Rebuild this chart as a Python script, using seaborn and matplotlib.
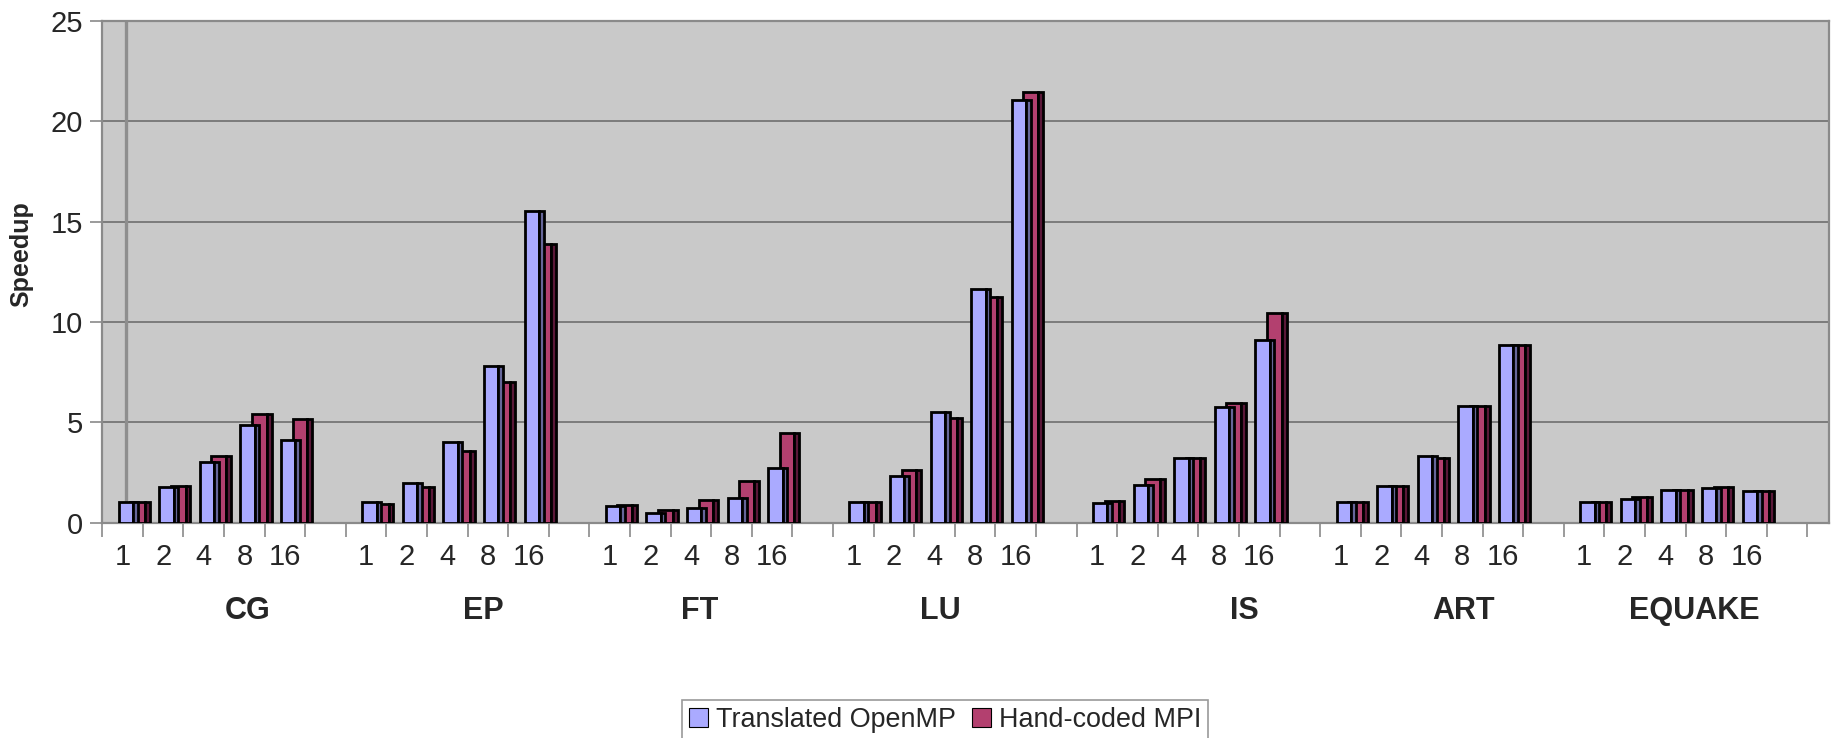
import matplotlib
matplotlib.use("Agg")
import matplotlib.pyplot as plt
from matplotlib.patches import Patch
from matplotlib.transforms import blended_transform_factory
import numpy as np
import pandas as pd
import seaborn as sns

# ---- data -------------------------------------------------------------
benchmarks = ["CG", "EP", "FT", "LU", "IS", "ART", "EQUAKE"]
procs = ["1", "2", "4", "8", "16"]

openmp = {
    "CG":     [1.00, 1.77, 3.00, 4.85, 4.10],
    "EP":     [1.00, 1.97, 4.00, 7.80, 15.53],
    "FT":     [0.82, 0.48, 0.72, 1.23, 2.72],
    "LU":     [1.00, 2.30, 5.50, 11.62, 21.07],
    "IS":     [0.95, 1.88, 3.22, 5.77, 9.10],
    "ART":    [1.00, 1.80, 3.33, 5.82, 8.87],
    "EQUAKE": [1.00, 1.18, 1.63, 1.72, 1.55],
}
mpi = {
    "CG":     [1.00, 1.80, 3.32, 5.43, 5.15],
    "EP":     [0.90, 1.77, 3.55, 7.02, 13.87],
    "FT":     [0.87, 0.62, 1.12, 2.05, 4.48],
    "LU":     [1.00, 2.62, 5.20, 11.22, 21.45],
    "IS":     [1.07, 2.18, 3.22, 5.97, 10.43],
    "ART":    [1.00, 1.80, 3.23, 5.83, 8.87],
    "EQUAKE": [1.00, 1.25, 1.63, 1.77, 1.55],
}
series_names = ["Translated OpenMP", "Hand-coded MPI"]
yticks = [0, 5, 10, 15, 20, 25]

# ---- tidy table: one row per non-empty category slot -----------------
SLOTS_PER_GROUP = len(procs) + 1          # five bars + one blank slot
rows = []
for g, name in enumerate(benchmarks):
    for j, p in enumerate(procs):
        rows.append({"bench": name, "procs": p,
                     "slot": g * SLOTS_PER_GROUP + j,
                     "openmp": openmp[name][j], "mpi": mpi[name][j]})
df = pd.DataFrame(rows)
n_slots = len(benchmarks) * SLOTS_PER_GROUP

# ---- style --------------------------------------------------------------
sns.set_style("white")
plt.rcParams["font.family"] = ["Liberation Sans", "DejaVu Sans"]

C_BLUE = "#AAAAFF"
C_BLUE_SIDE = "#66669A"
C_MPI = "#B3406F"
C_MPI_SIDE = "#5A1838"
EDGE = "black"
LW = 2.0

fig = plt.figure(figsize=(18.33, 7.38), dpi=100)
ax = fig.add_axes([0.0558, 0.292, 0.9420, 0.6795])
ax.set_facecolor("#C9C9C9")

# pseudo-3D columns: a front face plus a darker side strip for each series
# (x offsets and widths are in category-slot units)
layers = [
    ("mpi",    0.370, 0.360, C_MPI),
    ("mpi",    0.610, 0.120, C_MPI_SIDE),
    ("openmp", 0.078, 0.355, C_BLUE),
    ("openmp", 0.313, 0.115, C_BLUE_SIDE),
]
for col, shift, width, color in layers:
    sns.barplot(x=df["slot"] + shift, y=df[col], native_scale=True,
                width=width, color=color, saturation=1, errorbar=None,
                edgecolor=EDGE, linewidth=LW, ax=ax, zorder=3)

# axes limits and grid
ax.set_xlim(-0.5, 42.03)
ax.set_ylim(0, 25)
ax.set_yticks(yticks)
ax.set_yticklabels([str(t) for t in yticks])
ax.yaxis.grid(True, color="#6E6E6E", linewidth=1.2, zorder=0)
ax.xaxis.grid(False)
ax.set_axisbelow(True)
ax.axvline(0.084, color="#8E8E8E", linewidth=2.4, zorder=1)

for side in ["left", "bottom", "top", "right"]:
    ax.spines[side].set_visible(True)
    ax.spines[side].set_color("#8A8A8A")
    ax.spines[side].set_linewidth(1.6)

# x ticks: labels at slot centres, tick marks at slot boundaries
ax.set_xticks(df["slot"].to_numpy())
ax.set_xticklabels(df["procs"].tolist(), fontsize=21)
ax.set_xticks(np.arange(-0.5, n_slots + 0.5, 1.0), minor=True)
ax.tick_params(axis="x", which="major", length=0, pad=15)
ax.tick_params(axis="x", which="minor", length=10, width=1.2,
               color="#8A8A8A", bottom=True)
ax.tick_params(axis="y", which="major", length=9, width=1.2,
               color="#8A8A8A", labelsize=21, pad=5, left=True)
ax.set_xlabel("")
ax.set_ylabel("")

# benchmark names below the process counts
group_label_x = [3.09, 8.88, 14.21, 20.15, 27.64, 33.04, 38.71]
trans = blended_transform_factory(ax.transData, ax.transAxes)
for name, gx in zip(benchmarks, group_label_x):
    ax.text(gx, -0.1765, name, transform=trans, ha="center", va="center",
            fontsize=22, fontweight="bold")

fig.text(0.0115, 0.655, "Speedup", rotation=90, ha="center", va="center",
         fontsize=18, fontweight="bold")

handles = [Patch(facecolor=C_BLUE, edgecolor="black", linewidth=0.8),
           Patch(facecolor=C_MPI, edgecolor="black", linewidth=0.8)]
leg = fig.legend(handles, series_names, loc="upper center",
                 bbox_to_anchor=(0.5155, 0.0515), ncol=2, fontsize=19.4,
                 frameon=True, fancybox=False, handlelength=0.7,
                 handleheight=0.7, handletextpad=0.3, columnspacing=0.6,
                 borderpad=0.25, borderaxespad=0)
leg.get_frame().set_edgecolor("#808080")
leg.get_frame().set_linewidth(1.2)

fig.savefig("out.png", dpi=100, facecolor="white")
